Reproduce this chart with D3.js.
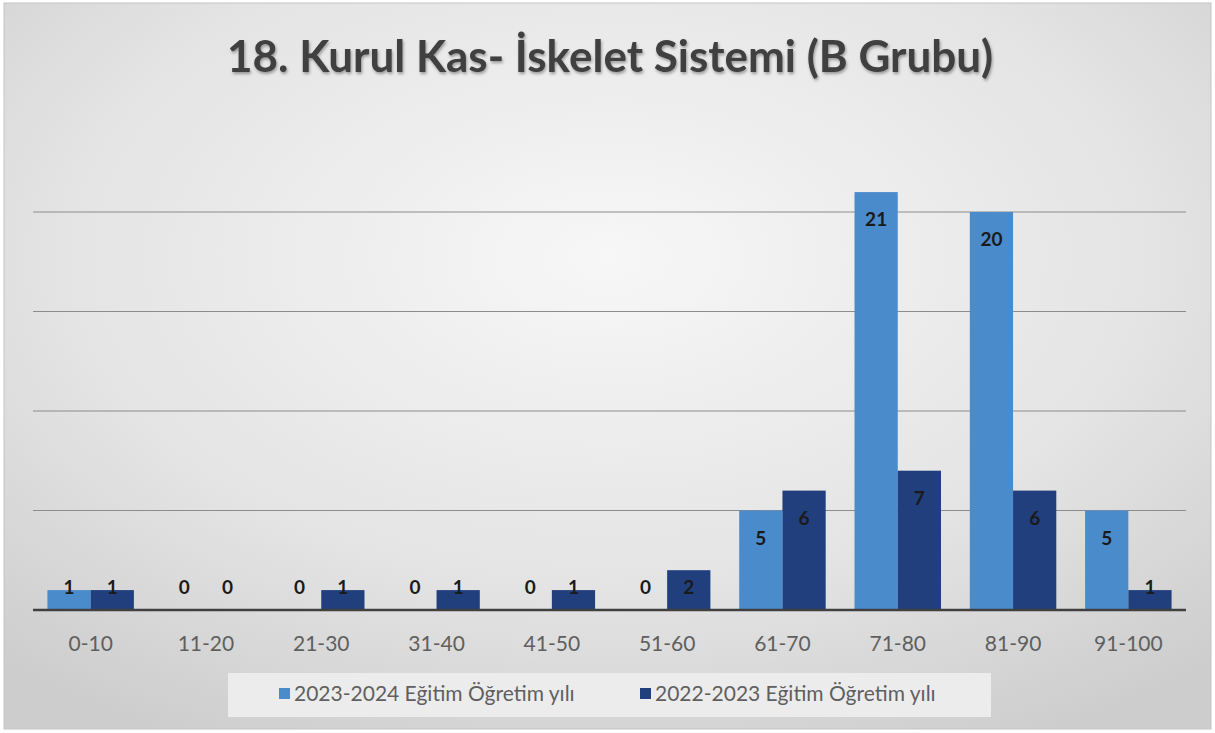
<!DOCTYPE html>
<html lang="tr">
<head>
  <meta charset="UTF-8">
  <title>18. Kurul Kas- İskelet Sistemi (B Grubu)</title>
  <script src="https://d3js.org/d3.v7.min.js"></script>
  <style>
    body { margin: 0; background: #fff; }
    text { font-family: Lato, "Open Sans", sans-serif; }
  </style>
</head>
<body>
  <div id="chart"></div>
  <script>
    // Data
    const categories = ["0-10", "11-20", "21-30", "31-40", "41-50", "51-60", "61-70", "71-80", "81-90", "91-100"];
    const seriesNames = ["2023-2024 Eğitim Öğretim yılı", "2022-2023 Eğitim Öğretim yılı"];
    const values2324 = [1, 0, 0, 0, 0, 0, 5, 21, 20, 5];
    const values2223 = [1, 0, 1, 1, 1, 2, 6, 7, 6, 1];
    const gridTicks = [0, 5, 10, 15, 20, 25];

    const W = 1215, H = 733;
    const colors = ["#4a8bcb", "#213f7c"];
    const plot = { left: 33, right: 1186, top: 112, bottom: 610 };

    const svg = d3.select("#chart").append("svg")
      .attr("width", W)
      .attr("height", H);

    // Background: grey with a light centre
    const defs = svg.append("defs");
    const grad = defs.append("radialGradient")
      .attr("id", "bg")
      .attr("cx", "50%").attr("cy", "35%").attr("r", "75%");
    grad.append("stop").attr("offset", "0%").attr("stop-color", "#f7f7f7");
    grad.append("stop").attr("offset", "60%").attr("stop-color", "#e4e4e4");
    grad.append("stop").attr("offset", "100%").attr("stop-color", "#cdcdcd");

    svg.append("rect")
      .attr("x", 0).attr("y", 0)
      .attr("width", W).attr("height", H)
      .attr("fill", "#ffffff");
    svg.append("rect")
      .attr("x", 4).attr("y", 3)
      .attr("width", W - 8).attr("height", H - 7)
      .attr("fill", "url(#bg)")
      .attr("stroke", "#c4c4c4");

    const filter = defs.append("filter").attr("id", "shadow");
    filter.append("feDropShadow")
      .attr("dx", 1).attr("dy", 2).attr("stdDeviation", 1.5)
      .attr("flood-color", "#000").attr("flood-opacity", 0.35);

    // Title
    svg.append("text")
      .attr("x", 610)
      .attr("y", 72)
      .attr("text-anchor", "middle")
      .attr("font-size", 44)
      .attr("font-weight", "bold")
      .attr("fill", "#404040")
      .attr("filter", "url(#shadow)")
      .text("18. Kurul Kas- İskelet Sistemi (B Grubu)");

    // Scales
    const x0 = d3.scaleBand()
      .domain(categories)
      .range([plot.left, plot.right])
      .paddingInner(0.25)
      .paddingOuter(0.125);

    const x1 = d3.scaleBand()
      .domain(seriesNames)
      .range([0, x0.bandwidth()]);

    const y = d3.scaleLinear()
      .domain([0, 25])
      .range([plot.bottom, plot.bottom - 25 * 19.9]);

    // Gridlines
    svg.append("g")
      .selectAll("line")
      .data(gridTicks.filter(t => t > 0 && t < 25))
      .join("line")
      .attr("x1", plot.left)
      .attr("x2", plot.right)
      .attr("y1", d => y(d))
      .attr("y2", d => y(d))
      .attr("stroke", "#8c8c8c")
      .attr("stroke-width", 1.2);

    const rows = categories.map((c, i) => ({
      cat: c,
      vals: [values2324[i], values2223[i]]
    }));

    // Bars
    const groups = svg.append("g")
      .selectAll("g")
      .data(rows)
      .join("g")
      .attr("transform", d => `translate(${x0(d.cat)},0)`);

    groups.selectAll("rect")
      .data(d => d.vals.map((v, k) => ({ k, v })))
      .join("rect")
      .attr("x", d => x1(seriesNames[d.k]))
      .attr("width", x1.bandwidth())
      .attr("y", d => y(d.v))
      .attr("height", d => y(0) - y(d.v))
      .attr("fill", d => colors[d.k]);

    // Value labels (inside end, pushed up for short bars)
    groups.selectAll("text")
      .data(d => d.vals.map((v, k) => ({ k, v })))
      .join("text")
      .attr("x", d => x1(seriesNames[d.k]) + x1.bandwidth() / 2)
      .attr("y", d => Math.min(y(d.v) + 34, y(0) - 16))
      .attr("text-anchor", "middle")
      .attr("font-size", 19)
      .attr("font-weight", "bold")
      .attr("fill", "#1a1a1a")
      .text(d => d.v);

    // Baseline axis
    const xAxis = d3.axisBottom(x0).tickSize(0);
    const axisG = svg.append("g")
      .attr("transform", `translate(0,${y(0)})`)
      .call(xAxis);
    axisG.select(".domain")
      .attr("d", `M${plot.left},0H${plot.right}`)
      .attr("stroke", "#404040")
      .attr("stroke-width", 2.5);
    axisG.selectAll(".tick text")
      .attr("font-family", "Lato, 'Open Sans', sans-serif")
      .attr("font-size", 21)
      .attr("fill", "#5f5f5f")
      .attr("dy", "0.32em")
      .attr("y", 34);

    // Legend
    const legend = svg.append("g");
    legend.append("rect")
      .attr("x", 228).attr("y", 673)
      .attr("width", 763).attr("height", 44)
      .attr("fill", "#ececec");

    const legendX = [279, 640];
    seriesNames.forEach((name, i) => {
      legend.append("rect")
        .attr("x", legendX[i]).attr("y", 688)
        .attr("width", 11).attr("height", 11)
        .attr("fill", colors[i]);
      legend.append("text")
        .attr("x", legendX[i] + 15)
        .attr("y", 701)
        .attr("font-size", 21)
        .attr("fill", "#5f5f5f")
        .text(name);
    });
  </script>
</body>
</html>
